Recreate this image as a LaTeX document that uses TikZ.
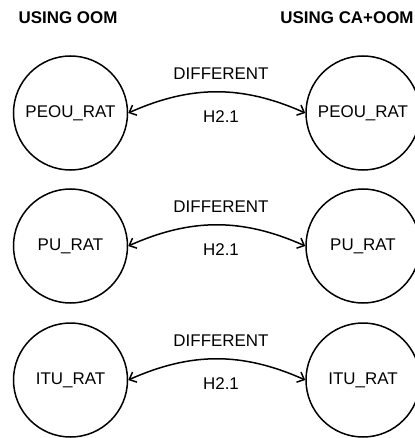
\documentclass[tikz,border=0pt]{standalone}
\usepackage{fontspec}
\setmainfont{Liberation Sans}
\usetikzlibrary{arrows.meta}
\begin{document}
\begin{tikzpicture}[x=1bp,y=-1bp,
  state/.style={draw,circle,line width=1.5bp,minimum size=114bp,inner sep=0pt,font=\fontsize{17}{19}\selectfont},
  hdr/.style={font=\bfseries\fontsize{17}{19}\selectfont},
  lbl/.style={font=\fontsize{17}{19}\selectfont},
  link/.style={line width=1.5bp,{Straight Barb[length=6bp,width=11bp]}-{Straight Barb[length=6bp,width=11bp]},bend left=24}]
\useasboundingbox (0,0) rectangle (414,438);
\node[hdr] (h1) at (68,18) {USING OOM};
\node[hdr] (h2) at (347,18) {USING CA+OOM};
\foreach \i/\y/\t in {1/113/PEOU\_RAT,2/246/PU\_RAT,3/380/ITU\_RAT}{
  \node[state] (l\i) at (70.5,\y) {\t};
  \node[state] (r\i) at (363,\y) {\t};
  \draw[link] (l\i.east) to (r\i.west);
  \node[lbl] (d\i) at (221,\y-39) {DIFFERENT};
  \node[lbl] (k\i) at (221,\y+4) {H2.1};
}
\end{tikzpicture}
\end{document}
